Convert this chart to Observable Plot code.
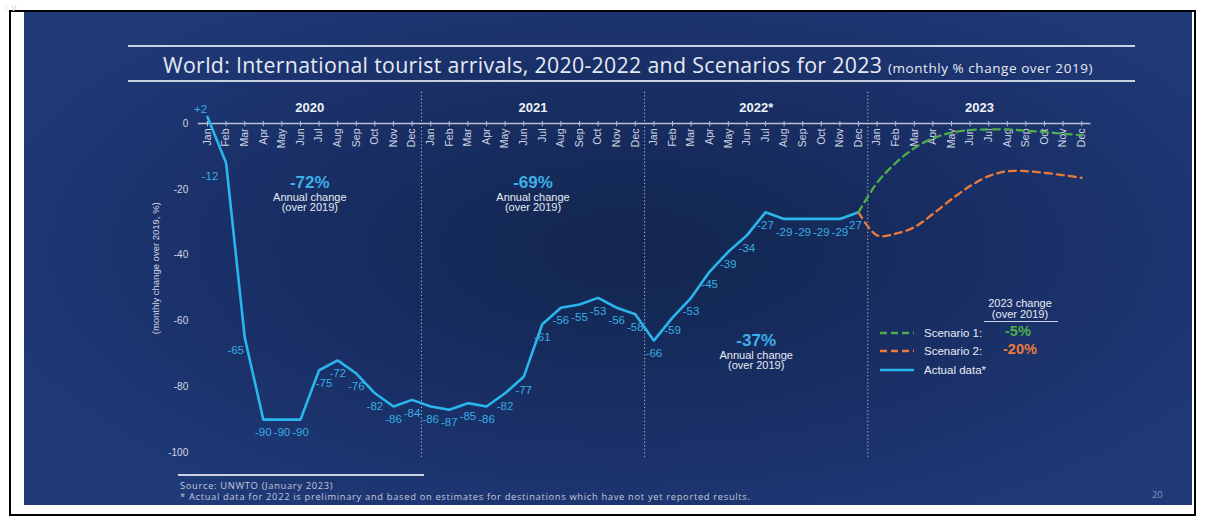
<!DOCTYPE html>
<html>
<head>
<meta charset="utf-8">
<script src="https://cdn.jsdelivr.net/npm/d3@7"></script>
<script src="https://cdn.jsdelivr.net/npm/@observablehq/plot@0.6"></script>
<style>
  html, body { margin: 0; padding: 0; background: #ffffff; width: 1207px; height: 532px; overflow: hidden; }
  #frame { position: absolute; left: 9px; top: 10px; width: 1187px; height: 506px; border: 2px solid #000; box-sizing: border-box; }
  #panel { position: absolute; left: 24px; top: 12px; width: 1168px; height: 493px;
    background: radial-gradient(ellipse 60% 65% at 52% 48%, #13264f 0%, #192f66 55%, #203a79 100%); }
  #chart { position: absolute; left: 0; top: 0; }
  .hline { position: absolute; height: 1.5px; background: #c9d0e0; }
  #title { position: absolute; left: 163px; top: 50px; font-family: "Open Sans", Lato, sans-serif; font-size: 21.3px; color: #e6eaf3; white-space: nowrap; letter-spacing: 0.32px; }
  #title small { font-size: 13.5px; letter-spacing: 0.55px; }
  .foot { position: absolute; font-family: "Open Sans", "Liberation Sans", sans-serif; font-size: 9.3px; line-height: 10px; color: #c3cad9; white-space: nowrap; letter-spacing: 0.7px; }
  #legend { position: absolute; left: 880px; top: 296px; font-family: "Liberation Sans", Arial, sans-serif; color: #e8ecf4; }
  .lrow { position: absolute; left: 0; height: 16px; display: flex; align-items: center; font-size: 11.5px; white-space: nowrap; }
  .lrow svg { margin-right: 10px; }
  .lval { position: absolute; font-weight: bold; font-size: 14.5px; }
</style>
</head>
<body>
<div id="frame"></div>
<div id="panel"></div>
<div class="hline" style="left:128px; top:45px; width:1007px;"></div>
<div class="hline" style="left:128px; top:80px; width:1007px;"></div>
<div id="title">World: International tourist arrivals, 2020-2022 and Scenarios for 2023 <small>(monthly % change over 2019)</small></div>
<div id="chart"></div>
<div id="legend">
  <div style="position:absolute; left:90px; top:2px; width:100px; text-align:center; font-size:11px; line-height:10.5px;">2023 change<br>(over 2019)</div>
  <div style="position:absolute; left:104px; top:25px; width:74px; height:1px; background:#c9d0e0;"></div>
  <div class="lrow" style="top:29px;"><svg width="34" height="4"><line x1="0" y1="2" x2="34" y2="2" stroke="#4fae4a" stroke-width="2.4" stroke-dasharray="7,4"/></svg>Scenario 1:</div>
  <div class="lval" style="left:125px; top:27px; color:#4fae4a;">-5%</div>
  <div class="lrow" style="top:47px;"><svg width="34" height="4"><line x1="0" y1="2" x2="34" y2="2" stroke="#ec7a3a" stroke-width="2.4" stroke-dasharray="7,4"/></svg>Scenario 2:</div>
  <div class="lval" style="left:123px; top:45px; color:#ec7a3a;">-20%</div>
  <div class="lrow" style="top:66px;"><svg width="34" height="4"><line x1="0" y1="2" x2="34" y2="2" stroke="#2ab6ec" stroke-width="2.4"/></svg>Actual data*</div>
</div>
<div style="position:absolute; left:178px; top:474px; width:246px; height:1.5px; background:#c9d0e0;"></div>
<div class="foot" style="left:180px; top:481px;">Source: UNWTO (January 2023)</div>
<div class="foot" style="left:180px; top:492px;">* Actual data for 2022 is preliminary and based on estimates for destinations which have not yet reported results.</div>
<div class="foot" style="left:1152px; top:490px; color:#8c98b6; letter-spacing:0;">20</div>
<script>
// ---- Data ----
const months = ["Jan","Feb","Mar","Apr","May","Jun","Jul","Aug","Sep","Oct","Nov","Dec"];
const yearLabels = ["2020","2021","2022*","2023"];
const actual2020 = [2,-12,-65,-90,-90,-90,-75,-72,-76,-82,-86,-84];
const actual2021 = [-86,-87,-85,-86,-82,-77,-61,-56,-55,-53,-56,-58];
const actual2022 = [-66,-59,-53,-45,-39,-34,-27,-29,-29,-29,-29,-27];
const scenario1_2023 = [-18,-12,-7.5,-4.5,-2.8,-2,-1.8,-1.8,-2.2,-2.6,-3.1,-3.6];
const scenario2_2023 = [-34,-33.5,-31.5,-27.5,-23,-19,-16,-14.5,-14.5,-15,-15.7,-16.5];
const annualChange = [{year: 0, text: "-72%"}, {year: 1, text: "-69%"}, {year: 2, text: "-37%"}];
const yTicks = [0,-20,-40,-60,-80,-100];

// ---- Build tables ----
const actual = [...actual2020, ...actual2021, ...actual2022].map((v, i) => ({i, v}));
const lastActual = actual[actual.length - 1];
const scen1 = [lastActual, ...scenario1_2023.map((v, k) => ({i: 36 + k, v}))];
const scen2 = [lastActual, ...scenario2_2023.map((v, k) => ({i: 36 + k, v}))];
const monthTicks = d3.range(48).map(i => ({i, m: months[i % 12]}));
const years = yearLabels.map((t, k) => ({x: k * 12 + 5.5, t}));
const dividers = [11.5, 23.5, 35.5];
const labelData = actual.map(d => ({...d, lab: d.v > 0 ? "+" + d.v : String(d.v)}));

const cyan = "#2ab6ec";
const labelCol = "#37ade4";
const tickFont = "'Liberation Sans Narrow', 'Arial Narrow', 'Liberation Sans', sans-serif";
const sans = "'Liberation Sans', Arial, sans-serif";

// label placements: special points, rest below the point
const special = {0: [-7, -8], 1: [-16, 13], 2: [-9, 13], 6: [5, 13], 35: [-5, 13]};
const labelStyle = {x: "i", y: "v", text: "lab", fill: labelCol, fontSize: 11.5, fontFamily: sans};
const labelMarks = [
  Plot.text(labelData.filter(d => !(d.i in special)), {...labelStyle, dy: 13}),
  ...Object.entries(special).map(([k, [dx, dy]]) =>
    Plot.text(labelData.filter(d => d.i === +k), {...labelStyle, dx, dy}))
];

const chart = Plot.plot({
  width: 1207,
  height: 532,
  marginLeft: 197.7,
  marginRight: 116.5,
  marginTop: 123,
  marginBottom: 80,
  style: {background: "transparent", color: "#d0d5e0", overflow: "visible"},
  x: {domain: [-0.5, 47.5], axis: null},
  y: {domain: [-100, 0], axis: null},
  marks: [
    Plot.ruleX(dividers, {x: d => d, y1: 9.5, y2: -101.5, stroke: "#c8d0e2", strokeWidth: 1, strokeDasharray: "1.3,2.2", strokeOpacity: 0.85}),
    Plot.ruleY([0], {stroke: "#b9c1d3", strokeWidth: 1.6}),
    Plot.ruleX(monthTicks, {x: "i", y1: 0.6, y2: -1, stroke: "#b9c1d3", strokeWidth: 1}),
    Plot.text(monthTicks, {x: "i", y: 0, text: "m", rotate: -90, textAnchor: "end", lineAnchor: "middle", dy: 5, fill: "#cfd5e2", fontSize: 10.5, fontFamily: tickFont}),
    Plot.text(years, {x: "x", y: 0, text: "t", dy: -16, fill: "#eef1f7", fontWeight: "bold", fontSize: 13, fontFamily: sans}),
    Plot.axisY({ticks: yTicks, tickSize: 0, tickPadding: 10, tickFormat: d => String(d), fontSize: 10, fontFamily: sans, fill: "#d2d7e3"}),
    Plot.text(["(monthly change over 2019, %)"], {frameAnchor: "left", y: () => -44, text: d => d, rotate: -90, textAnchor: "middle", dx: -42, fill: "#d2d7e3", fontSize: 9.5, fontFamily: tickFont}),
    Plot.text(annualChange, {x: d => d.year * 12 + 5.5, y: d => d.year === 2 ? -66 : -18, text: "text", fill: "#3bb1e8", fontWeight: "bold", fontSize: 17, fontFamily: sans}),
    Plot.text(annualChange, {x: d => d.year * 12 + 5.5, y: d => d.year === 2 ? -66 : -18, text: () => "Annual change\n(over 2019)", dy: 20, lineHeight: 0.95, fill: "#e6eaf3", fontSize: 11, fontFamily: sans}),
    Plot.line(actual, {x: "i", y: "v", stroke: cyan, strokeWidth: 2.6, strokeLinejoin: "miter"}),
    Plot.line(scen2, {x: "i", y: "v", stroke: "#ec7a3a", strokeWidth: 2.3, strokeDasharray: "7,5", curve: "catmull-rom"}),
    Plot.line(scen1, {x: "i", y: "v", stroke: "#4fae4a", strokeWidth: 2.3, strokeDasharray: "7,5", curve: "catmull-rom"}),
    ...labelMarks
  ]
});
document.getElementById("chart").appendChild(chart);
</script>
</body>
</html>
